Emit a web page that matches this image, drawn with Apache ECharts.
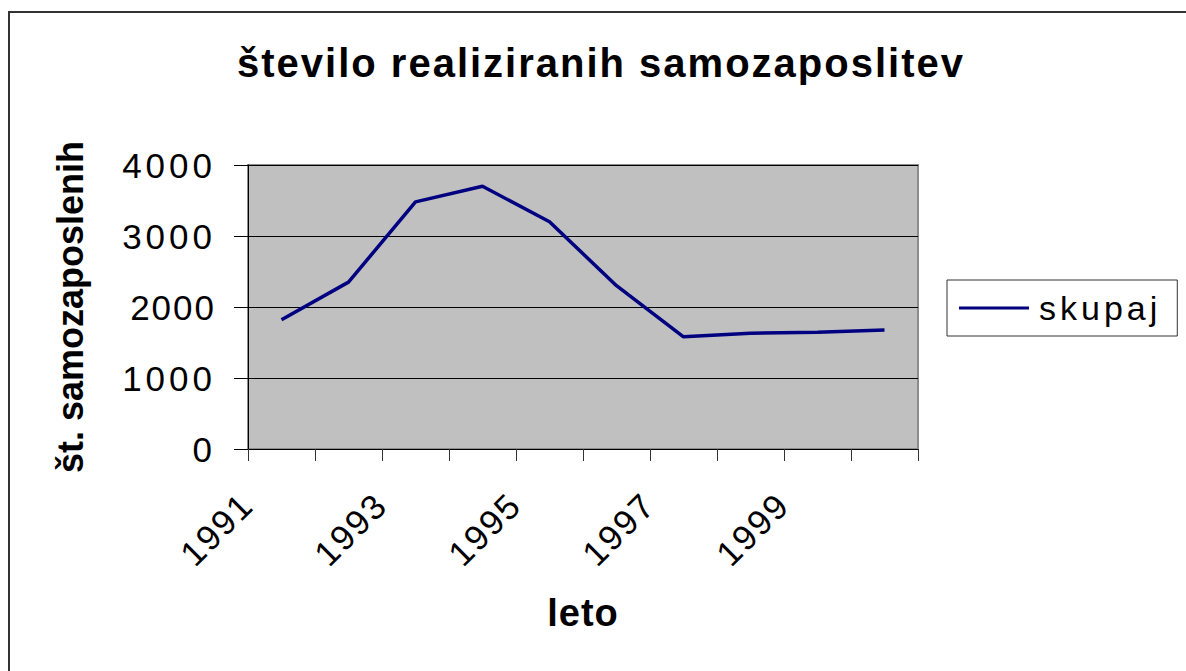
<!DOCTYPE html>
<html>
<head>
<meta charset="utf-8">
<script src="https://cdn.jsdelivr.net/npm/echarts@6/dist/echarts.min.js"></script>
<style>
html, body { margin: 0; padding: 0; background: #fff; }
#container { width: 1186px; height: 671px; }
</style>
</head>
<body>
<div id="container"></div>
<script>
var years = ['1991', '1992', '1993', '1994', '1995', '1996', '1997', '1998', '1999', '2000'];
var skupaj = [1820, 2350, 3480, 3700, 3200, 2300, 1580, 1630, 1645, 1675];
var yTicks = ['0', '1000', '2000', '3000', '4000'];

var font = "'Liberation Sans', Arial, sans-serif";
var dom = document.getElementById('container');
var myChart = echarts.init(dom, null, {renderer: 'svg'});

var option = {
    animation: false,
    backgroundColor: '#fff',
    title: {
        text: 'število realiziranih samozaposlitev',
        left: 596,
        top: 38,
        textAlign: 'center',
        textStyle: {fontFamily: font, fontSize: 40, fontWeight: 'bold', color: '#000'}
    },
    legend: {
        left: 947,
        top: 280,
        padding: [11, 40, 11, 12],
        icon: 'rect',
        itemWidth: 70,
        itemHeight: 3,
        borderColor: '#333',
        borderWidth: 1,
        borderRadius: 0,
        textStyle: {fontFamily: font, fontSize: 34, color: '#000', padding: [0, 0, 0, 5]},
        data: ['skupaj']
    },
    grid: {
        left: 248,
        top: 165,
        width: 670,
        height: 284,
        show: true,
        backgroundColor: '#c0c0c0',
        borderColor: '#8c8c8c',
        borderWidth: 2
    },
    xAxis: {
        type: 'category',
        data: years,
        boundaryGap: true,
        name: 'leto',
        nameLocation: 'middle',
        nameGap: 145,
        nameTextStyle: {fontFamily: font, fontSize: 38, fontWeight: 'bold', color: '#000'},
        axisLine: {lineStyle: {color: '#000', width: 1}},
        axisTick: {show: true, interval: 0, length: 12, lineStyle: {color: '#333'}},
        axisLabel: {
            interval: 1,
            rotate: 45,
            margin: 15,
            padding: [0, 49, 0, 0],
            fontFamily: font,
            fontSize: 35,
            color: '#000'
        },
        splitLine: {show: false}
    },
    yAxis: {
        type: 'value',
        min: 0,
        max: 4000,
        interval: 1000,
        name: 'št. samozaposlenih',
        nameLocation: 'middle',
        nameGap: 160,
        nameTextStyle: {fontFamily: font, fontSize: 36, fontWeight: 'bold', color: '#000'},
        axisLine: {show: true, lineStyle: {color: '#000', width: 1}},
        axisTick: {show: true, length: 14, lineStyle: {color: '#000'}},
        axisLabel: {
            margin: 32,
            fontFamily: font,
            fontSize: 35,
            color: '#000',
            formatter: function (v) { return String(v); }
        },
        splitLine: {show: true, lineStyle: {color: '#000', width: 1}}
    },
    series: [{
        name: 'skupaj',
        type: 'line',
        data: skupaj,
        symbol: 'none',
        lineStyle: {color: '#000080', width: 3.5},
        itemStyle: {color: '#000080'}
    }],
    graphic: [{
        type: 'rect',
        shape: {x: 9, y: 12, width: 1200, height: 700},
        style: {fill: 'none', stroke: '#333', lineWidth: 2},
        silent: true
    }]
};

myChart.setOption(option);

// the original picture is stretched sideways; widen the texts a little
var spacing = {'število realiziranih samozaposlitev': 2, 'leto': 1, 'skupaj': 4};
yTicks.forEach(function (t) { spacing[t] = 4; });
years.forEach(function (t) { spacing[t] = 2; });
function applySpacing() {
    var texts = dom.querySelectorAll('text');
    for (var i = 0; i < texts.length; i++) {
        var s = texts[i].textContent;
        if (spacing[s] != null) {
            texts[i].style.letterSpacing = spacing[s] + 'px';
        }
    }
}
applySpacing();
myChart.on('finished', applySpacing);
</script>
</body>
</html>
